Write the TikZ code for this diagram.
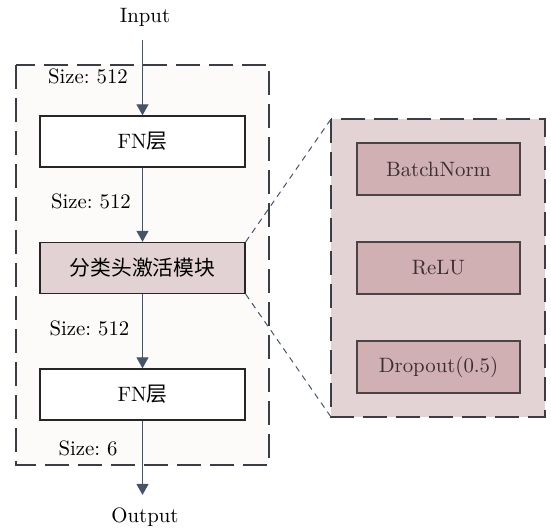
\documentclass[tikz,border=0pt]{standalone}
\usepackage{fontspec}
\newfontfamily\cjk{Noto Sans CJK SC}
\usetikzlibrary{arrows.meta}
\frenchspacing
\definecolor{arrowc}{HTML}{44546A}
\definecolor{framec}{HTML}{3A3D45}
\definecolor{leftfill}{HTML}{FCFBFA}
\definecolor{midfill}{HTML}{E3D2D3}
\definecolor{rightfill}{HTML}{E3D3D4}
\definecolor{innerfill}{HTML}{D0B0B3}
\definecolor{innerdraw}{HTML}{4A4446}
\definecolor{innertext}{HTML}{3B2E2E}
\tikzset{
  lbl/.style={font=\fontsize{10.4}{12.5}\selectfont, inner sep=0pt, anchor=base},
  outerbox/.style={draw=framec, line width=0.75pt, dash pattern=on 12pt off 4.5pt},
  layerbox/.style={draw=black!85, line width=0.7pt, minimum width=102.5pt, minimum height=25.5pt, inner sep=0pt, font=\fontsize{10.4}{12.5}\selectfont},
  innerbox/.style={draw=innerdraw, fill=innerfill, line width=0.6pt, minimum width=81.5pt, minimum height=26pt, inner sep=0pt, text=innertext, font=\fontsize{10.4}{12.5}\selectfont},
  flow/.style={draw=arrowc, line width=0.6pt, -{Triangle[width=6pt,length=5.5pt]}},
  zoomline/.style={draw=arrowc, line width=0.5pt, dash pattern=on 3pt off 2.5pt}
}
\begin{document}
\begin{tikzpicture}[x=0.5pt,y=-0.5pt]
\useasboundingbox (0,0) rectangle (551,527);
% outer boxes
\draw[outerbox, fill=leftfill] (16,65) rectangle (269,465);
\draw[outerbox, fill=rightfill] (331,119) rectangle (545,417);
\coordinate (rtl) at (331,119);
\coordinate (rbl) at (331,417);
% left column
\node[lbl] (input) at (145,22) {Input};
\node[lbl] (output) at (145,522) {Output};
\node[layerbox, fill=white] (fn1) at (142.5,141.5) {FN{\cjk 层}};
\node[layerbox, fill=midfill] (mid) at (142.5,268) {\cjk 分类头激活模块};
\node[layerbox, fill=white] (fn2) at (142.5,394.5) {FN{\cjk 层}};
\node[lbl] (s1) at (88,83) {Size: 512};
\node[lbl] (s2) at (91,208) {Size: 512};
\node[lbl] (s3) at (89.5,335) {Size: 512};
\node[lbl] (s4) at (88,455) {Size: 6};
% right column
\node[innerbox] (bn) at (438.5,169) {BatchNorm};
\node[innerbox] (relu) at (438.5,268) {ReLU};
\node[innerbox] (drop) at (438.5,367) {Dropout(0.5)};
% arrows
\draw[flow, shorten <=7pt] (input.south -| fn1.north) -- (fn1.north);
\draw[flow] (fn1.south) -- (mid.north);
\draw[flow] (mid.south) -- (fn2.north);
\draw[flow, shorten >=6pt] (fn2.south) -- (fn2.south |- output.north);
% zoom lines
\draw[zoomline] (mid.north east) -- (rtl);
\draw[zoomline] (mid.south east) -- (rbl);
\end{tikzpicture}
\end{document}
